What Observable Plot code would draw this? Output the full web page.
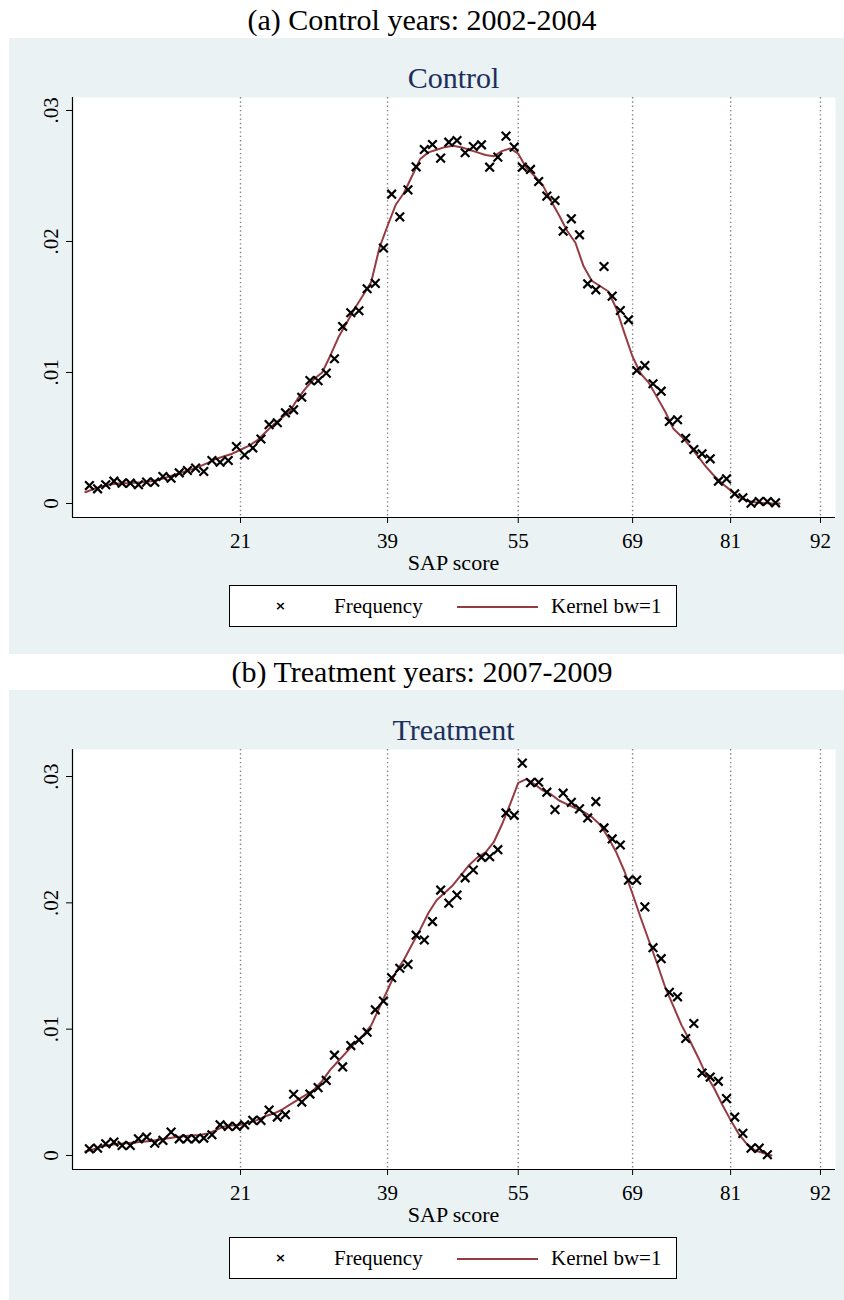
<!DOCTYPE html>
<html>
<head>
<meta charset="utf-8">
<script src="https://cdn.jsdelivr.net/npm/d3@7"></script>
<script src="https://cdn.jsdelivr.net/npm/@observablehq/plot@0.6"></script>
<style>
  body { margin: 0; background: #ffffff; font-family: "Liberation Serif", "Times New Roman", serif; }
  #page { position: relative; width: 844px; height: 1300px; overflow: hidden; background: #ffffff; }
  .region { position: absolute; left: 9px; width: 835px; background: #eaf2f3; }
  .title { position: absolute; left: 0; width: 844px; text-align: center; font-size: 30px; line-height: 30px; color: #000; white-space: nowrap; }
  .sub { position: absolute; left: 72px; width: 763px; text-align: center; font-size: 30px; line-height: 30px; color: #1c2f5c; white-space: nowrap; }
  .xlabel { position: absolute; left: 72px; width: 763px; text-align: center; font-size: 22px; line-height: 22px; color: #000; }
  .plot { position: absolute; left: 0; }
  .legend { position: absolute; left: 229px; width: 448px; height: 42px; background: #fff; border: 1px solid #000; box-sizing: border-box; font-size: 21px; color: #000; }
  .legend span { position: absolute; top: 9px; line-height: 22px; white-space: nowrap; }
  .legend .mk { left: 45px; top: 9px; font-family: "DejaVu Sans", sans-serif; font-weight: bold; font-size: 13px; }
  .legend .sw { position: absolute; left: 227px; top: 20px; width: 81px; height: 0; border-top: 2px solid #953b42; }
</style>
</head>
<body>
<div id="page"></div>
<script>
// Bin midpoints of the SAP score histogram (one bin per score point)
const controlScores = [2.5,3.5,4.5,5.5,6.5,7.5,8.5,9.5,10.5,11.5,12.5,13.5,14.5,15.5,16.5,17.5,18.5,19.5,20.5,21.5,22.5,23.5,24.5,25.5,26.5,27.5,28.5,29.5,30.5,31.5,32.5,33.5,34.5,35.5,36.5,37.5,38.5,39.5,40.5,41.5,42.5,43.5,44.5,45.5,46.5,47.5,48.5,49.5,50.5,51.5,52.5,53.5,54.5,55.5,56.5,57.5,58.5,59.5,60.5,61.5,62.5,63.5,64.5,65.5,66.5,67.5,68.5,69.5,70.5,71.5,72.5,73.5,74.5,75.5,76.5,77.5,78.5,79.5,80.5,81.5,82.5,83.5,84.5,85.5,86.5];
const controlFreq = [.00137,.00112,.00143,.0017,.00155,.00155,.00143,.00163,.00163,.00206,.00193,.00234,.00252,.0027,.00244,.00328,.00315,.00328,.00435,.0037,.00424,.00492,.00602,.00616,.00692,.00715,.00811,.00939,.00937,.00995,.01105,.01351,.01456,.01471,.01639,.0168,.0195,.02361,.02188,.02394,.0257,.02702,.0274,.02636,.02758,.02771,.02677,.02725,.02738,.02567,.02644,.02804,.0272,.02567,.0255,.02458,.02346,.02313,.02079,.02173,.02051,.01677,.01631,.01809,.01583,.01473,.01402,.01015,.01053,.00914,.00857,.00626,.00639,.00498,.00412,.00379,.00341,.0017,.00188,.00074,.00044,.00002,.00015,.00015,.00005];

const treatScores = [2.5,3.5,4.5,5.5,6.5,7.5,8.5,9.5,10.5,11.5,12.5,13.5,14.5,15.5,16.5,17.5,18.5,19.5,20.5,21.5,22.5,23.5,24.5,25.5,26.5,27.5,28.5,29.5,30.5,31.5,32.5,33.5,34.5,35.5,36.5,37.5,38.5,39.5,40.5,41.5,42.5,43.5,44.5,45.5,46.5,47.5,48.5,49.5,50.5,51.5,52.5,53.5,54.5,55.5,56.5,57.5,58.5,59.5,60.5,61.5,62.5,63.5,64.5,65.5,66.5,67.5,68.5,69.5,70.5,71.5,72.5,73.5,74.5,75.5,76.5,77.5,78.5,79.5,80.5,81.5,82.5,83.5,84.5,85.5];
const treatFreq = [.00053,.00058,.00093,.00106,.00079,.00079,.00132,.00146,.00098,.00119,.00185,.00132,.00132,.00132,.00138,.00164,.00243,.0023,.0023,.00243,.00278,.00278,.0036,.00304,.00323,.00485,.00423,.00486,.00537,.00594,.00794,.00701,.0087,.00915,.00976,.01153,.01222,.01407,.01482,.01513,.01744,.01706,.01852,.02101,.01998,.02061,.02198,.0226,.0236,.02365,.02421,.02712,.02693,.03106,.02952,.02955,.02876,.02738,.02868,.02796,.02744,.02672,.02802,.02593,.02506,.02458,.0218,.0218,.01968,.01645,.01558,.01291,.01256,.00926,.01045,.00653,.00621,.00587,.0045,.00304,.00175,.00058,.00058,.00006];

// Kernel density estimates (bandwidth 1) evaluated on the integer score grid
const controlGrid = [2,3,4,5,6,7,8,9,10,11,12,13,14,15,16,17,18,19,20,21,22,23,24,25,26,27,28,29,30,31,32,33,34,35,36,37,38,39,40,41,42,43,44,45,46,47,48,49,50,51,52,53,54,55,56,57,58,59,60,61,62,63,64,65,66,67,68,69,70,71,72,73,74,75,76,77,78,79,80,81,82,83,84,85,86,87];
const controlKernel = [.00086,.0011,.0013,.00145,.00152,.00155,.00158,.00162,.0017,.0018,.002,.00222,.0024,.0026,.00283,.0031,.0034,.0036,.0038,.0041,.0044,.0048,.0054,.006,.0065,.007,.008,.0088,.0095,.01,.0113,.0127,.0138,.0149,.0159,.0169,.0195,.0212,.0228,.0237,.025,.0263,.0268,.027,.0272,.0273,.0272,.027,.0268,.0266,.0265,.0269,.0271,.0267,.0256,.025,.0243,.0231,.022,.0208,.0199,.0181,.017,.0166,.0162,.0149,.013,.0112,.0099,.0092,.0081,.007,.0057,.0051,.0044,.0036,.0028,.0021,.0015,.001,.0005,.0002,.0001,.00003,0,0];

const treatGrid = [2,3,4,5,6,7,8,9,10,11,12,13,14,15,16,17,18,19,20,21,22,23,24,25,26,27,28,29,30,31,32,33,34,35,36,37,38,39,40,41,42,43,44,45,46,47,48,49,50,51,52,53,54,55,56,57,58,59,60,61,62,63,64,65,66,67,68,69,70,71,72,73,74,75,76,77,78,79,80,81,82,83,84,85,86];
const treatKernel = [.00032,.0005,.0007,.00083,.0009,.00097,.00103,.00108,.00115,.00125,.00135,.00145,.00152,.00158,.00162,.00175,.002,.0023,.00237,.00243,.0026,.0028,.0031,.0033,.0036,.004,.0044,.0048,.0052,.0059,.0068,.0075,.0082,.0089,.0095,.0103,.0117,.0131,.0145,.0155,.0167,.0179,.0192,.0202,.0208,.0214,.0222,.023,.0236,.024,.0248,.0262,.0278,.0295,.0298,.0294,.0289,.0286,.0281,.0278,.0275,.0272,.0268,.0262,.0252,.024,.0225,.0207,.0188,.017,.0152,.0133,.0118,.0103,.0091,.0078,.0064,.0053,.004,.0028,.0017,.0009,.0004,.0002,0];

// Axis ticks
const xTicks = [21, 39, 55, 69, 81, 92];
const yTicks = [0, .01, .02, .03];

// Axis ranges
const xRange = [0.43, 93.84];
const controlYRange = [-0.00107, 0.03099];
const treatYRange = [-0.00111, 0.03214];

const red = "#953b42";
const fmtY = d => d === 0 ? "0" : d3.format(".2f")(d).replace(/^0/, "");

function densityPlot(scores, freq, grid, kernel, yRange) {
  const pts = scores.map((s, i) => ({s, v: freq[i]}));
  const kd = grid.map((s, i) => ({s, v: kernel[i]}));
  return Plot.plot({
    width: 844,
    height: 530,
    marginLeft: 72,
    marginRight: 9,
    marginTop: 59,
    marginBottom: 51,
    style: {background: "transparent", fontFamily: "'Liberation Serif', 'Times New Roman', serif", color: "#000"},
    x: {domain: xRange},
    y: {domain: yRange},
    marks: [
      Plot.frame({fill: "#ffffff", stroke: "none"}),
      Plot.ruleX(xTicks, {stroke: "#858585", strokeWidth: 1.4, strokeDasharray: "1.4,2.9"}),
      Plot.ruleX([xRange[0]], {stroke: "#000", strokeWidth: 1.2}),
      Plot.ruleY([yRange[0]], {stroke: "#000", strokeWidth: 1.2}),
      Plot.axisX(xTicks, {tickSize: 6, tickPadding: 10, fontSize: 21, label: null, stroke: "#000"}),
      Plot.axisY(yTicks, {tickSize: 6, tickPadding: 9, tickRotate: -90, fontSize: 21, tickFormat: fmtY, label: null, stroke: "#000"}),
      Plot.line(kd, {x: "s", y: "v", stroke: red, strokeWidth: 2}),
      Plot.dot(pts, {x: "s", y: "v", symbol: "times", r: 4, stroke: "#000", strokeWidth: 2.2})
    ]
  });
}

const page = document.getElementById("page");
function add(html) { page.insertAdjacentHTML("beforeend", html); }

function panel(top, titleText, subText, plot) {
  add(`<div class="region" style="top:${top}px;height:${top === 38 ? 616 : 610}px"></div>`);
  add(`<div class="title" style="top:${top - 33}px">${titleText}</div>`);
  add(`<div class="sub" style="top:${top + 25}px">${subText}</div>`);
  plot.classList.add("plot");
  plot.style.top = top + "px";
  page.appendChild(plot);
  add(`<div class="xlabel" style="top:${top + 514}px">SAP score</div>`);
  add(`<div class="legend" style="top:${top + 547}px">
         <span class="mk">×</span>
         <span style="left:104px">Frequency</span>
         <div class="sw"></div>
         <span style="left:321px">Kernel bw=1</span>
       </div>`);
}

panel(38, "(a) Control years: 2002-2004", "Control",
  densityPlot(controlScores, controlFreq, controlGrid, controlKernel, controlYRange));
panel(690, "(b) Treatment years: 2007-2009", "Treatment",
  densityPlot(treatScores, treatFreq, treatGrid, treatKernel, treatYRange));
</script>
</body>
</html>
